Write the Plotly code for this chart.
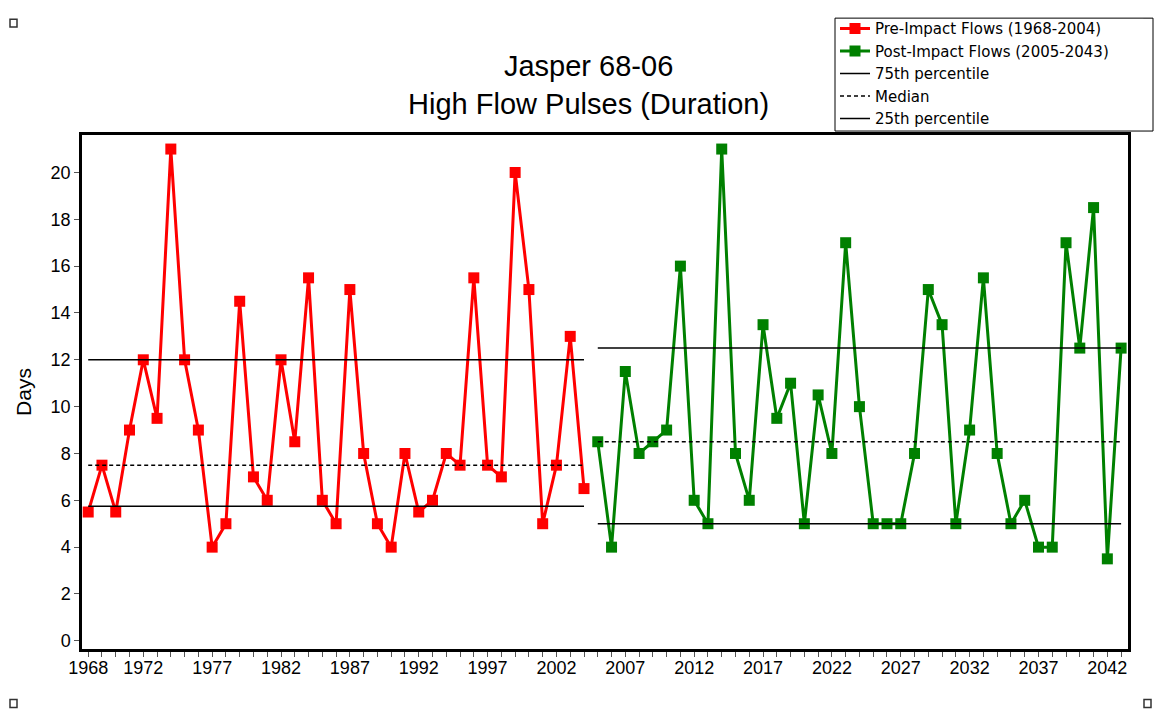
import plotly.graph_objects as go

# pre-impact (1968-2004) and post-impact (2005-2043) high flow pulse durations
pre_years = list(range(1968, 2005))
pre_days = [5.5, 7.5, 5.5, 9, 12, 9.5, 21, 12, 9, 4, 5, 14.5, 7, 6, 12, 8.5, 15.5, 6, 5,
            15, 8, 5, 4, 8, 5.5, 6, 8, 7.5, 15.5, 7.5, 7, 20, 15, 5, 7.5, 13, 6.5]

post_years = list(range(2005, 2044))
post_days = [8.5, 4, 11.5, 8, 8.5, 9, 16, 6, 5, 21, 8, 6, 13.5, 9.5, 11, 5, 10.5, 8, 17, 10,
             5, 5, 5, 8, 15, 13.5, 5, 9, 15.5, 8, 5, 6, 4, 4, 17, 12.5, 18.5, 3.5, 12.5]

# percentile lines (75th, median, 25th)
pre_pct = [12, 7.5, 5.75]
post_pct = [12.5, 8.5, 5]
pct_names = ["75th percentile", "Median", "25th percentile"]
pct_dash = ["solid", "4px,3px", "solid"]

label_years = [1968, 1972, 1977, 1982, 1987, 1992, 1997, 2002, 2007, 2012, 2017,
               2022, 2027, 2032, 2037, 2042]
y_ticks = [0, 2, 4, 6, 8, 10, 12, 14, 16, 18, 20]

FONT = "Liberation Sans, Arial, sans-serif"

fig = go.Figure()

fig.add_trace(go.Scatter(x=pre_years, y=pre_days, mode="lines+markers",
                         name="Pre-Impact Flows (1968-2004)",
                         line=dict(color="#ff0000", width=3),
                         marker=dict(symbol="square", size=11, color="#ff0000")))
fig.add_trace(go.Scatter(x=post_years, y=post_days, mode="lines+markers",
                         name="Post-Impact Flows (2005-2043)",
                         line=dict(color="#008000", width=3),
                         marker=dict(symbol="square", size=11, color="#008000")))

for i in range(3):
    fig.add_trace(go.Scatter(x=[pre_years[0], pre_years[-1]], y=[pre_pct[i]] * 2,
                             mode="lines", name=pct_names[i], legendgroup=pct_names[i],
                             line=dict(color="black", width=1.5, dash=pct_dash[i])))
    fig.add_trace(go.Scatter(x=[post_years[0], post_years[-1]], y=[post_pct[i]] * 2,
                             mode="lines", name=pct_names[i], legendgroup=pct_names[i],
                             showlegend=False,
                             line=dict(color="black", width=1.5, dash=pct_dash[i])))

all_years = list(range(1968, 2044))
tick_text = [str(y) if y in label_years else "" for y in all_years]

fig.update_xaxes(range=[1967.55, 2043.5], tickvals=all_years, ticktext=tick_text,
                 ticks="outside", ticklen=5, tickcolor="#555", tickangle=0,
                 ticklabelstandoff=-4,
                 showgrid=False, zeroline=False, showline=True, linecolor="black",
                 linewidth=2.5, mirror=True,
                 tickfont=dict(family=FONT, size=18, color="black"))
fig.update_yaxes(range=[-0.35, 21.6], tickvals=y_ticks, ticks="outside", ticklen=5,
                 tickcolor="#555", showgrid=False, zeroline=False, showline=True,
                 linecolor="black", linewidth=2.5, mirror=True,
                 tickfont=dict(family=FONT, size=18, color="black"),
                 title=dict(text="Days", standoff=14,
                            font=dict(family=FONT, size=21, color="black")))

# plot area in pixels: 82..1128 across, 130..649 down
PL, PR, PT, PB = 82, 1128, 130, 649


def px2paper(px, py):
    return (px - PL) / (PR - PL), (PB - py) / (PB - PT)


shapes = []
# little selection handles in the corners of the picture
for px, py in [(10, 13), (1144, 13), (10, 700), (1144, 700)]:
    x0, y0 = px2paper(px, py)
    x1, y1 = px2paper(px + 7, py + 8)
    shapes.append(dict(type="rect", xref="paper", yref="paper", x0=x0, x1=x1, y0=y0, y1=y1,
                       line=dict(color="#333", width=1.5), fillcolor="white"))

# legend frame, sized like the original box
x0, y0 = px2paper(835, 12)
x1, y1 = px2paper(1153, 126)
shapes.append(dict(type="rect", xref="paper", yref="paper", x0=x0, x1=x1, y0=y0, y1=y1,
                   line=dict(color="black", width=1), fillcolor="white", layer="above"))

lx, ly = px2paper(835, 6)

fig.update_layout(
    width=1161, height=710,
    margin=dict(l=PL, r=1161 - PR, t=PT, b=710 - PB),
    paper_bgcolor="white", plot_bgcolor="white",
    font=dict(family=FONT, color="black"),
    title=dict(text="Jasper 68-06<br>High Flow Pulses (Duration)",
               xref="container", yref="container", x=0.507, xanchor="center",
               y=0.893, yanchor="top",
               font=dict(family=FONT, size=29, color="black")),
    legend=dict(x=lx, y=ly, xanchor="left", yanchor="top",
                borderwidth=0, bgcolor="rgba(0,0,0,0)",
                font=dict(family="DejaVu Sans, sans-serif", size=15, color="black"),
                tracegroupgap=0, itemwidth=30),
    shapes=shapes,
)

# drop the default 8px body margin so the figure fills the window exactly
fig.write_html("out.html", config={"displayModeBar": False},
               post_script="document.body.style.margin = '0';")
